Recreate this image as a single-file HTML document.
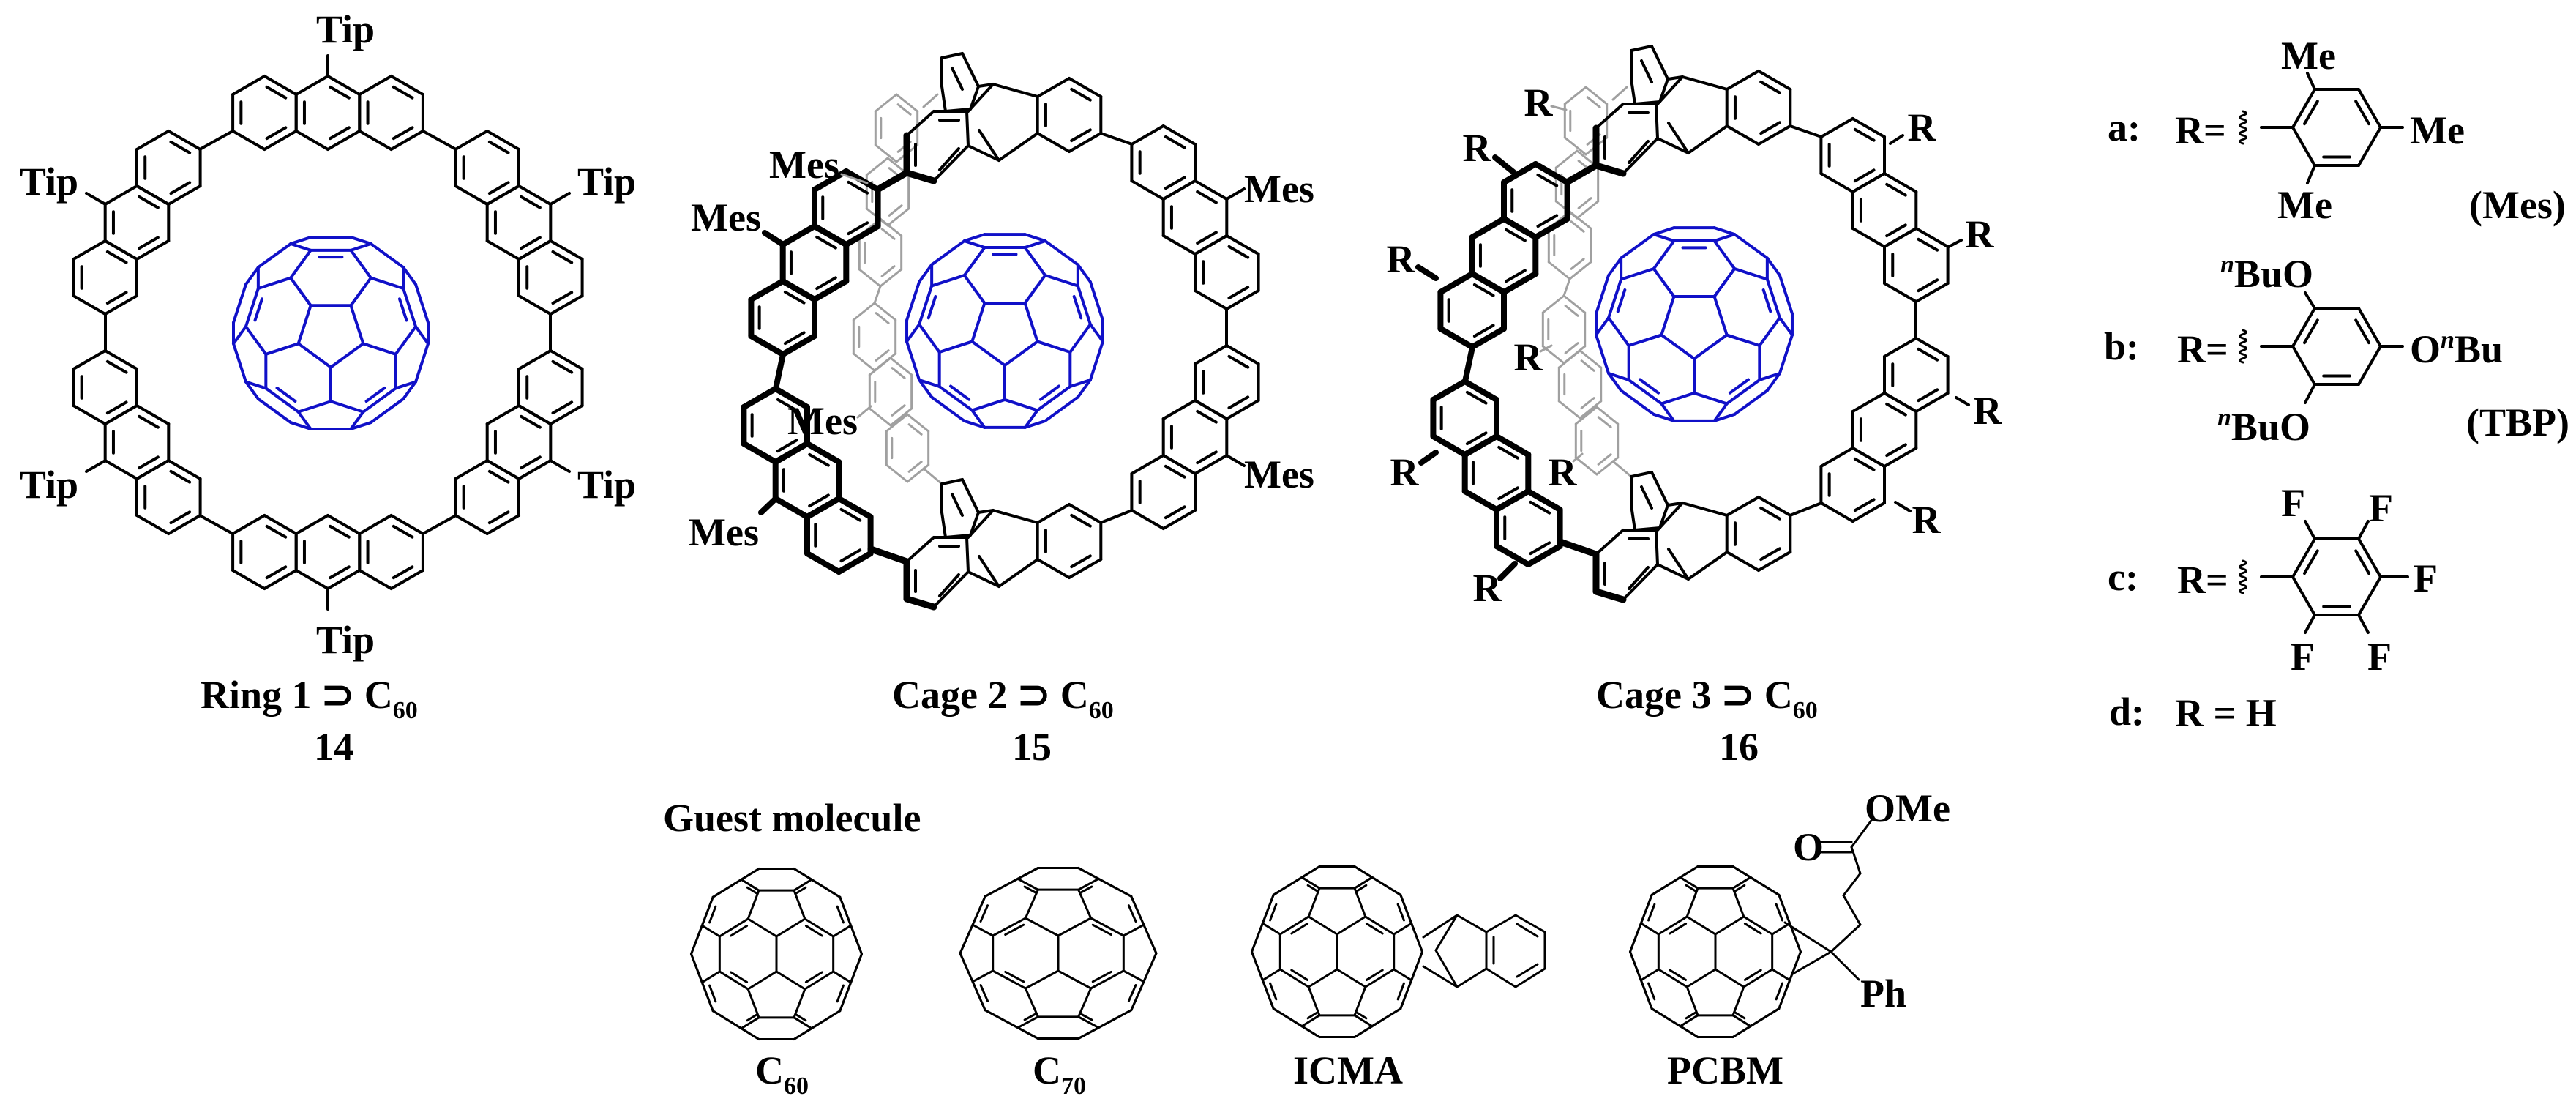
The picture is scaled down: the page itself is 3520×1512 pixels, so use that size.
<!DOCTYPE html>
<html><head><meta charset="utf-8"><style>html,body{margin:0;padding:0;background:#fff}svg{display:block}</style></head>
<body>
<svg id="s" xmlns="http://www.w3.org/2000/svg" width="3520" height="1512" viewBox="0 0 3520 1512">
<rect width="3520" height="1512" fill="#fff"/>
<g id="L" fill="none" stroke-linecap="round" stroke-linejoin="round"></g>
<g id="C3" transform="translate(942,-10)" fill="none" stroke-linecap="round" stroke-linejoin="round"></g>
<g id="T" font-family="Liberation Serif, serif" font-weight="bold" font-size="54" fill="#000">
<text x="472" y="58" text-anchor="middle">Tip</text>
<text x="107" y="266" text-anchor="end">Tip</text>
<text x="107" y="680" text-anchor="end">Tip</text>
<text x="789" y="266">Tip</text>
<text x="789" y="680">Tip</text>
<text x="472" y="892" text-anchor="middle">Tip</text>
<text x="274" y="967">Ring 1 ⊃ C<tspan font-size="34" dy="14">60</tspan></text>
<text x="456" y="1038" text-anchor="middle">14</text>
<text x="1219" y="967">Cage 2 ⊃ C<tspan font-size="34" dy="14">60</tspan></text>
<text x="1410" y="1038" text-anchor="middle">15</text>
<text x="2181" y="967">Cage 3 ⊃ C<tspan font-size="34" dy="14">60</tspan></text>
<text x="2376" y="1038" text-anchor="middle">16</text>
<text x="1700" y="276">Mes</text>
<text x="1700" y="666">Mes</text>
<text x="1147" y="243" text-anchor="end">Mes</text>
<text x="1040" y="315" text-anchor="end">Mes</text>
<text x="1172" y="593" text-anchor="end">Mes</text>
<text x="1037" y="745" text-anchor="end">Mes</text>
<text x="2018" y="220" text-anchor="middle">R</text>
<text x="1914" y="372" text-anchor="middle">R</text>
<text x="1919" y="663" text-anchor="middle">R</text>
<text x="2032" y="821" text-anchor="middle">R</text>
<text x="2102" y="158" text-anchor="middle">R</text>
<text x="2088" y="506" text-anchor="middle">R</text>
<text x="2135" y="663" text-anchor="middle">R</text>
<text x="2626" y="192" text-anchor="middle">R</text>
<text x="2705" y="338" text-anchor="middle">R</text>
<text x="2716" y="579" text-anchor="middle">R</text>
<text x="2632" y="728" text-anchor="middle">R</text>
<text x="2880" y="192">a:</text>
<text x="2972" y="196">R=</text>
<text x="3117" y="94">Me</text>
<text x="3293" y="196">Me</text>
<text x="3112" y="298">Me</text>
<text x="3374" y="298">(Mes)</text>
<text x="2875" y="491">b:</text>
<text x="2975" y="495">R=</text>
<text x="3034" y="392"><tspan font-style="italic" font-size="34" dy="-20">n</tspan><tspan dy="20">BuO</tspan></text>
<text x="3293" y="495">O<tspan font-style="italic" font-size="34" dy="-20">n</tspan><tspan dy="20">Bu</tspan></text>
<text x="3030" y="601"><tspan font-style="italic" font-size="34" dy="-20">n</tspan><tspan dy="20">BuO</tspan></text>
<text x="3370" y="595">(TBP)</text>
<text x="2880" y="806">c:</text>
<text x="2975" y="810">R=</text>
<text x="3117" y="705">F</text>
<text x="3237" y="712">F</text>
<text x="3298" y="808">F</text>
<text x="3130" y="915">F</text>
<text x="3235" y="915">F</text>
<text x="2882" y="990">d:</text>
<text x="2972" y="992">R = H</text>
<text x="906" y="1135">Guest molecule</text>
<text x="1032" y="1480">C<tspan font-size="34" dy="14">60</tspan></text>
<text x="1411" y="1480">C<tspan font-size="34" dy="14">70</tspan></text>
<text x="1767" y="1480">ICMA</text>
<text x="2278" y="1480">PCBM</text>
<text x="2450" y="1175">O</text>
<text x="2548" y="1122">OMe</text>
<text x="2542" y="1375">Ph</text>
</g>
</svg>
<script>
const NS='http://www.w3.org/2000/svg';
const L=document.getElementById('L'), C3=document.getElementById('C3');
function ln(g,x1,y1,x2,y2,w,c){const e=document.createElementNS(NS,'line');e.setAttribute('x1',x1);e.setAttribute('y1',y1);e.setAttribute('x2',x2);e.setAttribute('y2',y2);e.setAttribute('stroke',c||'#000');e.setAttribute('stroke-width',w||4);g.appendChild(e);}
function pl(g,pts,w,c,closed){for(let i=0;i<pts.length-(closed?0:1);i++){const a=pts[i],b=pts[(i+1)%pts.length];ln(g,a[0],a[1],b[0],b[1],w,c);}}
function hex(g,cx,cy,o){o=o||{};const R=o.R||50,w=o.w||4,c=o.c||'#000',sx=o.sx||1,dbl=o.dbl||[0,2,4],iw=o.iw||w,rot=o.rot||0;
 const v=[],vi=[];for(let k=0;k<6;k++){const a=(-90+60*k+rot)*Math.PI/180;v.push([cx+R*Math.cos(a)*sx,cy+R*Math.sin(a)]);vi.push([cx+0.74*R*Math.cos(a)*sx,cy+0.74*R*Math.sin(a)]);}
 pl(g,v,w,c,true);
 dbl.forEach(k=>{const a=vi[k],b=vi[(k+1)%6];const x1=a[0]+(b[0]-a[0])*0.1,y1=a[1]+(b[1]-a[1])*0.1,x2=b[0]-(b[0]-a[0])*0.1,y2=b[1]-(b[1]-a[1])*0.1;ln(g,x1,y1,x2,y2,iw,c);});}
function anth(g,cx,cy,dir,o){const a=dir*Math.PI/180;for(let k=-1;k<=1;k++)hex(g,cx+k*86.6*Math.cos(a),cy+k*86.6*Math.sin(a),o);}

const P=(1+Math.sqrt(5))/2;
function c60(g,cx,cy,s,orient,color,w,sx){sx=sx||1;
 const base=[[0,1,3*P],[1,2+P,2*P],[P,2,2*P+1]];const V=[];
 for(const b of base)for(const sa of[-1,1])for(const sb of[-1,1])for(const sc of[-1,1]){const v=[b[0]*sa,b[1]*sb,b[2]*sc];
  for(let r=0;r<3;r++){const q=[v[r%3],v[(r+1)%3],v[(r+2)%3]];if(!V.some(u=>Math.hypot(u[0]-q[0],u[1]-q[1],u[2]-q[2])<1e-6))V.push(q);}}
 const I=[];for(const sa of[-1,1])for(const sb of[-1,1]){const v=[0,sa,sb*P];for(let r=0;r<3;r++)I.push([v[r%3],v[(r+1)%3],v[(r+2)%3]]);}
 const pid=V.map(v=>{let best=-1e9,bi=0;I.forEach((c,i)=>{const d=v[0]*c[0]+v[1]*c[1]+v[2]*c[2];if(d>best){best=d;bi=i;}});return bi;});
 const Rv=orient(V,pid,I);
 const S=Rv.map(v=>[cx+s*v[0]*sx,cy-s*v[1],v[2]]);
 for(let i=0;i<V.length;i++)for(let j=i+1;j<V.length;j++){
  const d=Math.hypot(V[i][0]-V[j][0],V[i][1]-V[j][1],V[i][2]-V[j][2]);if(Math.abs(d-2)>1e-3)continue;
  const za=(S[i][2]+S[j][2])/2;if(za<-1.6)continue;
  const a=S[i],b=S[j];ln(g,a[0],a[1],b[0],b[1],w,color);
  if(pid[i]!==pid[j]&&za>0.6){const mx=(a[0]+b[0])/2,my=(a[1]+b[1])/2;let dx=cx-mx,dy=cy-my;const dl=Math.hypot(dx,dy)||1;const off=0.34*s;dx=dx/dl*off;dy=dy/dl*off;
   const x1=a[0]+(b[0]-a[0])*0.22+dx,y1=a[1]+(b[1]-a[1])*0.22+dy,x2=a[0]+(b[0]-a[0])*0.78+dx,y2=a[1]+(b[1]-a[1])*0.78+dy;ln(g,x1,y1,x2,y2,w,color);}
 }}
function pentFront(V,pid,I){const n=Math.hypot(1,P),sn=1/n,cs=P/n;
 let R=V.map(v=>[v[0],v[1]*cs-v[2]*sn,v[1]*sn+v[2]*cs]);
 let top=0;R.forEach((v,i)=>{if(v[2]>R[top][2])top=i;});
 const th=Math.atan2(R[top][1],R[top][0]);const al=-Math.PI/2-th;const ca=Math.cos(al),sa=Math.sin(al);
 return R.map(v=>[v[0]*ca-v[1]*sa,v[0]*sa+v[1]*ca,v[2]]);}
function ident(V){return V.map(v=>[v[0],v[1],v[2]]);}

const BLUE='#1010c8',GR='#a0a0a0';
// ---------- Ring 1 ----------
c60(L,452,455,27.4,pentFront,BLUE,4);
anth(L,448,154,0);anth(L,448,754,0);
anth(L,187,304,120);anth(L,187,604,60);
anth(L,709,304,60);anth(L,709,604,120);
[[318,179,273,204],[578,179,623,204],[144,429,144,479],[752,429,752,479],[318,729,273,704],[578,729,623,704],
 [448,104,448,76],[448,804,448,832],[144,279,118,264],[144,629,118,644],[752,279,778,264],[752,629,778,644]].forEach(a=>ln(L,a[0],a[1],a[2],a[3],4));

// ---------- Cage skeleton ----------
function trip(g,dy){
 const T=(p)=>[p[0],p[1]+dy];
 hex(g,1461,157+dy,{});
 const segs=[[1418,132,1357,115],[1418,182,1365,219],[1357,115,1323,152],[1365,219,1323,199],[1365,219,1338,178],[1337,118,1357,115]];
 segs.forEach(a=>ln(g,a[0],a[1]+dy,a[2],a[3]+dy,4));
 pl(g,[[1239,185],[1276,152],[1321,152],[1323,199],[1276,247],[1239,236]].map(T),4,'#000',true);
 ln(g,1239,185+dy,1239,236+dy,9);ln(g,1239,236+dy,1276,247+dy,9);
 ln(g,1251,197+dy,1251,226+dy,4);ln(g,1284,232+dy,1310,203+dy,4);ln(g,1284,164+dy,1310,164+dy,4);
 pl(g,[[1287,79],[1315,73],[1337,118],[1326,149],[1292,152],[1287,118]].map(T),4,'#000',true);
 ln(g,1301,93+dy,1315,122+dy,4);
}
function cage(g){
 const G={c:GR,w:3,sx:0.72,R:46};
 [[1225,175],[1213,262],[1203,345],[1195,460],[1217,535],[1240,612]].forEach(c=>hex(g,c[0],c[1],G));
 ln(g,1203,391,1195,414,3,GR);ln(g,1262,146,1281,129,3,GR);ln(g,1262,640,1287,661,3,GR);
 const B={w:8,iw:4};
 anth(g,1113,359,120,B);anth(g,1103,656,60,B);
 ln(g,1070,484,1060,531,8);
 ln(g,1199,259,1239,236,9);ln(g,1190,750,1239,767,9);
 anth(g,1633,297,60);anth(g,1633,597,120);
 ln(g,1676,422,1676,472,4);
 trip(g,0);trip(g,582);
 ln(g,1504,182,1547,197,4);ln(g,1504,714,1547,697,4);
}
cage(L);
c60(L,1373,452,27.6,pentFront,BLUE,4);
cage(C3);
c60(L,2315,443,27.6,pentFront,BLUE,4);
// Mes bonds cage 2
ln(L,1676,272,1700,258,4);ln(L,1676,622,1700,636,4);
ln(L,1070,334,1045,318,8);ln(L,1060,681,1040,700,8);
ln(L,1185,250,1150,238,3,GR);ln(L,1190,555,1172,570,3,GR);
// R bonds cage 3
[[2043,215,2068,235,8],[1938,365,1962,380,8],[1942,632,1962,618,8],[2050,790,2070,770,8],
 [2120,145,2140,150,3],[2105,480,2120,472,3],[2150,630,2162,620,3],
 [2600,185,2583,196,4],[2680,328,2663,337,4],[2690,553,2673,543,4],[2610,698,2590,686,4]].forEach(a=>ln(L,a[0],a[1],a[2],a[3],a[4],a[4]==3?GR:'#000'));

// ---------- Right column ----------
function flatHex(cx,cy){const R=60;const v=[];for(let k=0;k<6;k++){const a=(k*60)*Math.PI/180;v.push([cx+R*Math.cos(a),cy+R*Math.sin(a)]);}
 pl(L,v,4,'#000',true);
 [[3,4],[5,0],[1,2]].forEach(e=>{const a=v[e[0]],b=v[e[1]];const f=p=>[cx+(p[0]-cx)*0.78,cy+(p[1]-cy)*0.78];const A=f(a),B=f(b);
  ln(L,A[0]+(B[0]-A[0])*0.12,A[1]+(B[1]-A[1])*0.12,B[0]-(B[0]-A[0])*0.12,B[1]-(B[1]-A[1])*0.12,4);});
 let d='M3065 '+(cy-22);for(let i=1;i<=8;i++){d+=' Q'+(3065+(i%2?9:-9))+' '+(cy-22+i*5.5-2.75)+' 3065 '+(cy-22+i*5.5);}
 const p=document.createElementNS(NS,'path');p.setAttribute('d',d);p.setAttribute('stroke','#000');p.setAttribute('stroke-width',3);p.setAttribute('fill','none');L.appendChild(p);
 ln(L,3090,cy,3133,cy,4);}
flatHex(3193,174);flatHex(3193,473);flatHex(3193,788);
[[3163,122,3153,100],[3253,174,3283,174],[3163,226,3153,250],
 [3163,421,3150,400],[3253,473,3283,473],[3163,525,3150,550],
 [3163,736,3150,712],[3223,736,3236,712],[3253,788,3290,788],[3163,840,3150,864],[3223,840,3236,864]].forEach(a=>ln(L,a[0],a[1],a[2],a[3],4));

// ---------- Bottom row ----------
c60(L,1061,1303,24,ident,'#000',3);
c60(L,1446,1302,24,ident,'#000',3,1.15);
c60(L,1827,1300,24,ident,'#000',3);
c60(L,2344,1300,24,ident,'#000',3);
pl(L,[[1945,1280],[1991,1250],[2031,1273]],3,'#000');pl(L,[[1945,1320],[1991,1348],[2031,1323]],3,'#000');
ln(L,1962,1298,1991,1250,3);ln(L,1962,1298,1991,1348,3);
pl(L,[[2031,1273],[2071,1250],[2111,1273],[2111,1323],[2071,1348],[2031,1323]],3,'#000',true);
ln(L,2073,1262,2101,1279,3);ln(L,2101,1317,2073,1334,3);ln(L,2041,1280,2041,1316,3);
ln(L,2439,1260,2502,1300,3);ln(L,2450,1330,2502,1300,3);
pl(L,[[2502,1300],[2542,1263],[2519,1223],[2542,1193],[2530,1157],[2559,1118]],3,'#000');
ln(L,2502,1300,2540,1338,3);
ln(L,2490,1150,2530,1150,3);ln(L,2490,1164,2530,1164,3);
</script>
</body></html>
